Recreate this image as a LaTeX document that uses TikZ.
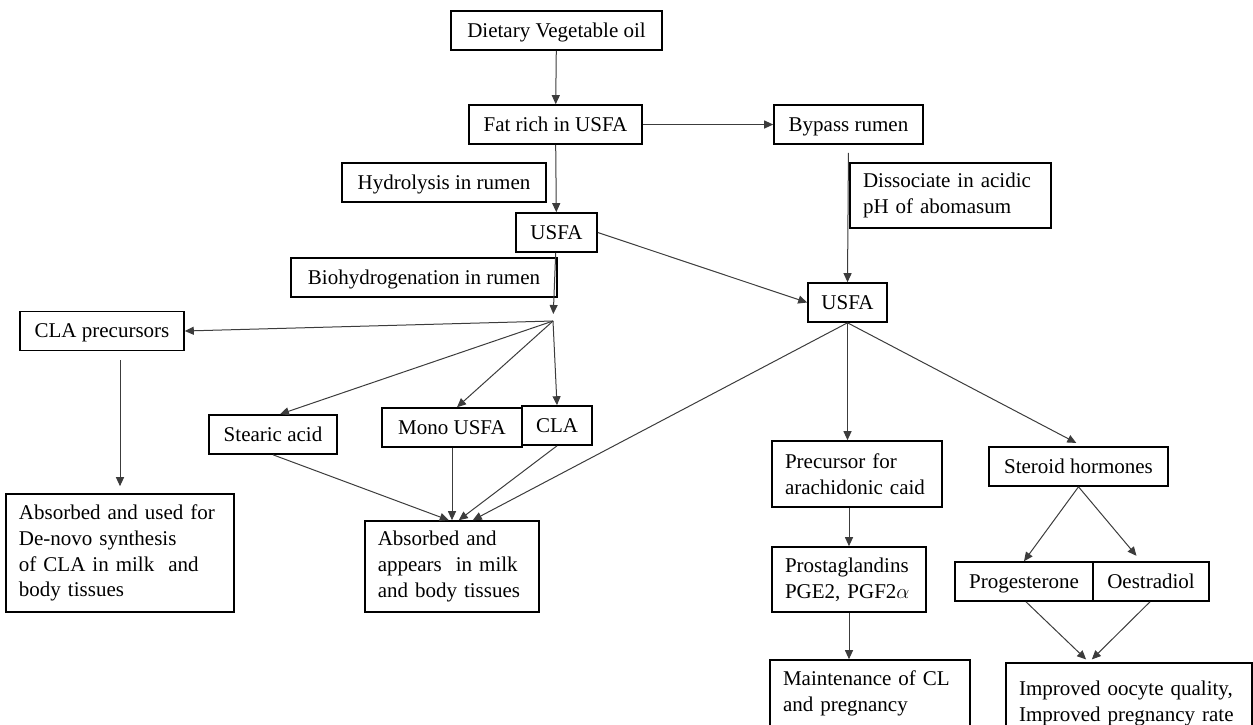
\documentclass[tikz,border=0pt]{standalone}
\usepackage{fontspec}
\setmainfont{Liberation Serif}
\usepackage{tikz}
\usetikzlibrary{arrows.meta}
\definecolor{linegray}{RGB}{60, 60, 60}

\tikzset{
  frame/.style={draw=black, line width=1.6pt, inner sep=0pt},
  box/.style={frame, minimum height=39pt, text height=17pt, text depth=4pt},
  notebox/.style={frame, align=left, inner xsep=13pt, text width=#1},
  link/.style={draw=linegray, line width=1pt, -{Triangle[length=9pt,width=8pt]}}
}

\begin{document}
\begin{tikzpicture}[x=1pt, y=-1pt, font=\fontsize{21pt}{25.8pt}\selectfont]
        \useasboundingbox (0,0) rectangle (1253,724);
        \clip (0,0) rectangle (1253,724);
        % upper chain
        \node[box, minimum width=211pt] (diet)   at (556.5,30.5)  {Dietary Vegetable oil};
        \node[box, minimum width=173pt] (fat)    at (555.5,124.5) {Fat rich in USFA};
        \node[box, minimum width=149pt] (bypass) at (848.5,124.5) {Bypass rumen};
        \node[box, minimum width=204pt] (hydro)  at (444,182.5)   {Hydrolysis in rumen};
        \node[notebox=175pt, minimum height=65pt] (dissoc) at (950.5,195.5) {Dissociate in acidic\\pH of abomasum};
        \node[box, minimum width=81pt]  (usfaL)  at (556.5,232.5) {USFA};
        \node[box, minimum width=266pt] (bio)    at (424,277.5)   {Biohydrogenation in rumen};
        \node[box, minimum width=79pt]  (usfaR)  at (847.5,302.5) {USFA};
        % rumen products
        \node[box, minimum width=164pt] (clapre)  at (102,331)     {CLA precursors};
        \node[box, minimum width=128pt] (stearic) at (273,434.5)   {Stearic acid};
        \node[box, minimum width=140pt] (mono)    at (452,427.5)   {Mono USFA};
        \node[box, minimum width=70pt]  (cla)     at (557,425.5)   {CLA};
        \node[notebox=202pt, minimum height=118pt] (absused) at (120,553) {Absorbed and used for\\De-novo synthesis\\of CLA in milk\ \ and\\body tissues};
        \node[notebox=148pt, minimum height=91pt]  (absapp)  at (451.75,566.5) {Absorbed and\\appears\ \ in milk\\and body tissues};
        % abomasum products
        \node[notebox=144pt, minimum height=66pt] (prec)   at (857,474)     {Precursor for\\arachidonic caid};
        \node[box, minimum width=179pt]           (steroid) at (1078.5,466.5) {Steroid hormones};
        \node[notebox=128pt, minimum height=65pt] (prosta) at (849,579.5)   {Prostaglandins\\PGE2, PGF2$\alpha$};
        \node[box, minimum width=138pt]           (prog)   at (1024,581.5)  {Progesterone};
        \node[box, minimum width=116pt]           (oestr)  at (1151,581.5)  {Oestradiol};
        \node[notebox=174pt, minimum height=66pt] (maint)  at (870,693)     {Maintenance of CL\\and pregnancy};
        \node[notebox=220pt, minimum height=81pt] (impr)   at (1129,703.5)  {Improved oocyte quality,\\Improved pregnancy rate};
        \coordinate (hub) at (553,321);

        \draw[link] (diet) -- (fat);
        \draw[link] (fat) -- (usfaL);
        \draw[link] (fat) -- (bypass);
        \draw[link, shorten <=8pt] (bypass.south) -- (usfaR.north);
        \draw[link] (usfaL.east) -- (usfaR.west);
        \draw[link, shorten >=7pt] (usfaL) -- (hub);
        \draw[link] (hub) -- (clapre.east);
        \draw[link] (hub) -- ([xshift=7pt]stearic.north);
        \draw[link] (hub) -- ([xshift=5pt]mono.north);
        \draw[link] (hub) -- (cla.north);
        \draw[link, shorten <=9pt, shorten >=7pt] (clapre.south -| absused.north) -- (absused.north);
        \draw[link] (stearic.south) -- ([xshift=-3pt]absapp.north);
        \draw[link] (mono.south) -- (mono.south |- absapp.north);
        \draw[link] (cla.south) -- ([xshift=7pt]absapp.north);
        \draw[link] (usfaR.south) -- ([xshift=21pt]absapp.north);
        \draw[link] (usfaR.south) -- (usfaR.south |- prec.north);
        \draw[link, shorten >=7pt] (usfaR.south) -- ([xshift=4pt]steroid.north);
        \draw[link] (prec.south -| prosta.north) -- (prosta.north);
        \draw[link] (prosta.south) -- (prosta.south |- maint.north);
        \draw[link] (steroid.south) -- (prog.north);
        \draw[link, shorten >=7pt] (steroid.south) -- ([xshift=-10pt]oestr.north);
        \draw[link, shorten >=4pt] ([xshift=2pt]prog.south) -- ([xshift=-40pt]impr.north);
        \draw[link, shorten >=4pt] ([xshift=-1pt]oestr.south) -- ([xshift=-40pt]impr.north);
      \end{tikzpicture}
\end{document}
